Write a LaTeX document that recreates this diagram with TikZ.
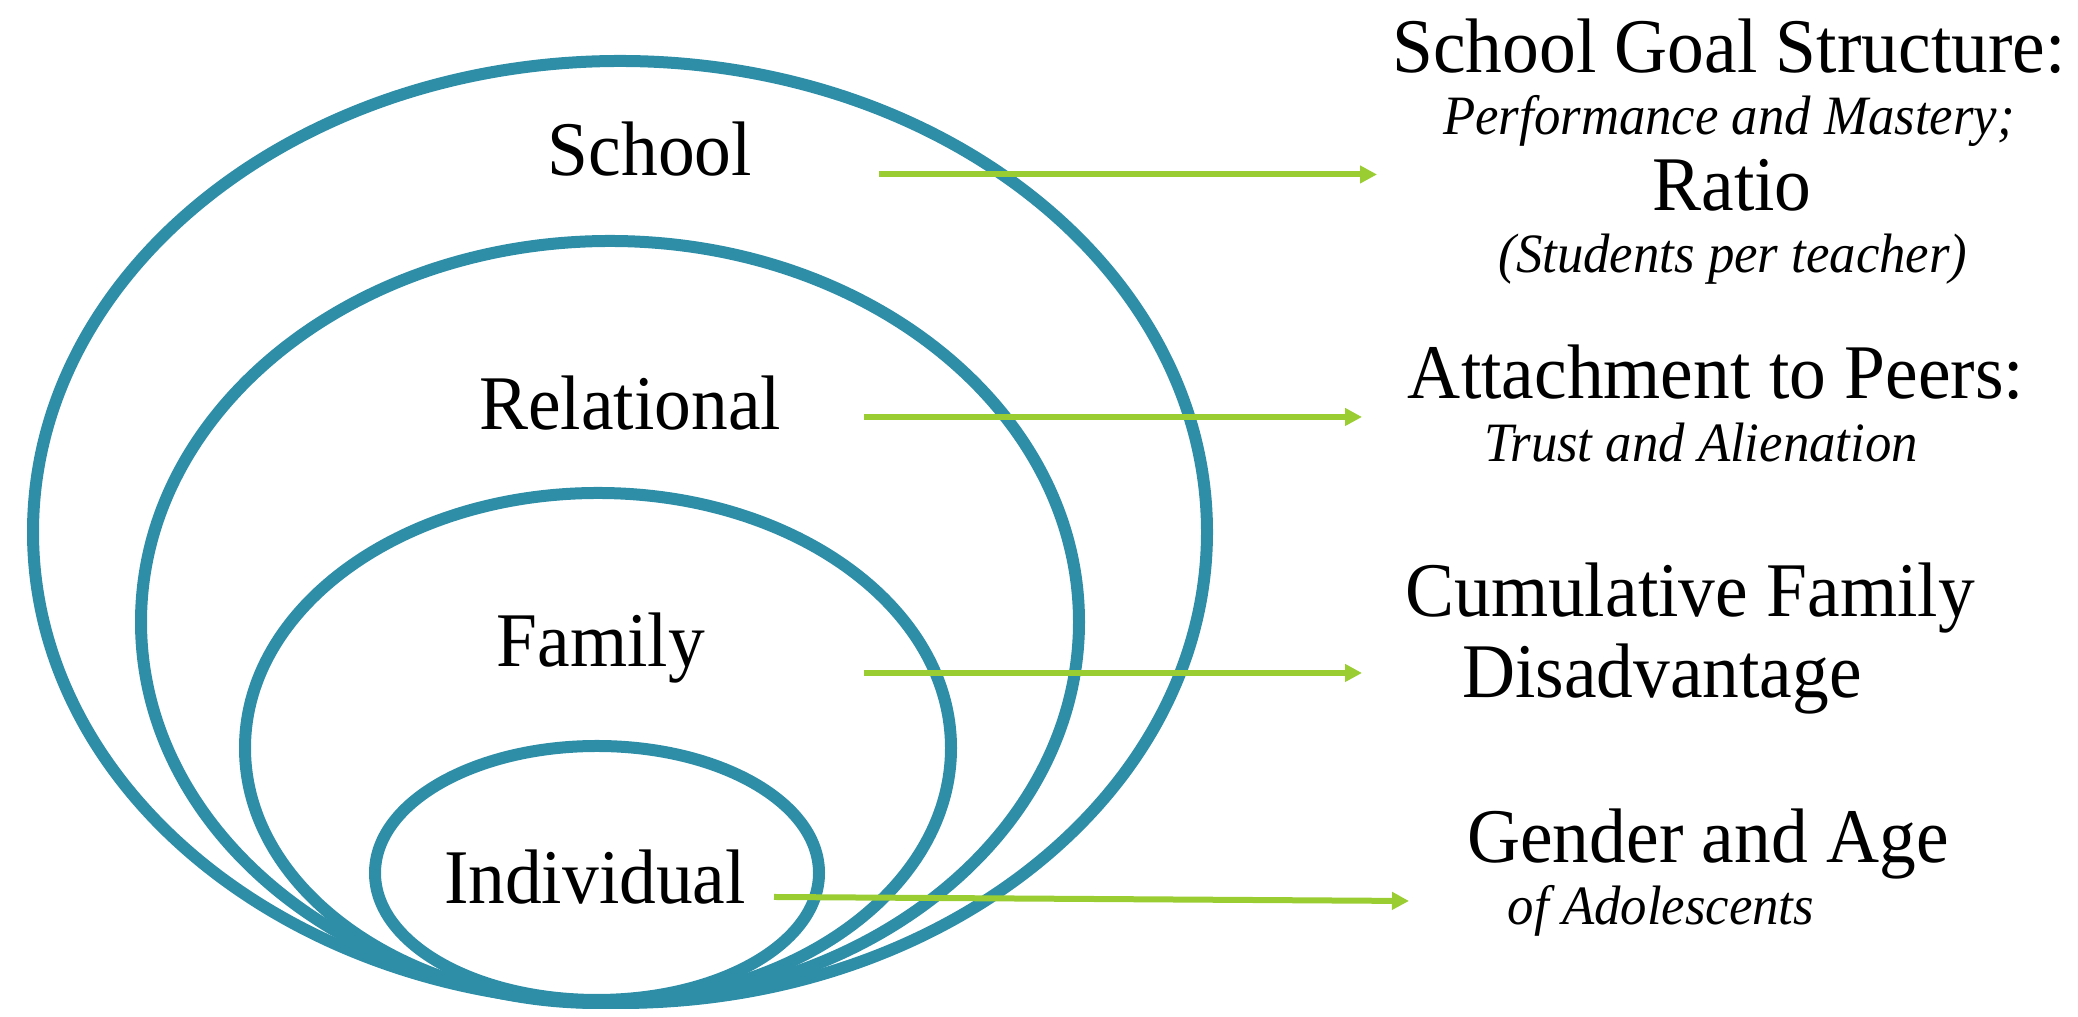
\documentclass[tikz,border=0pt]{standalone}
\usepackage{fontspec}
\setmainfont{Liberation Serif}[FakeStretch=0.95]
\usepackage{tikz}
\usepackage{xcolor}
\usetikzlibrary{arrows.meta}

\definecolor{ringteal}{RGB}{46,142,168}
\definecolor{linkgreen}{RGB}{154,205,50}

\tikzset{
	ring/.style={draw=ringteal, line width=0.12cm},
	link/.style={draw=linkgreen, line width=0.06cm, -{Triangle[length=0.17cm,width=0.17cm]}},
	level/.style={anchor=base, inner sep=0pt, font=\fontsize{22}{26}\selectfont},
	factor/.style={anchor=base, inner sep=0pt, font=\fontsize{22}{26}\selectfont},
	detail/.style={anchor=base, inner sep=0pt, font=\fontsize{15.8}{19}\selectfont\itshape}
}

\begin{document}
\begin{tikzpicture}
		\useasboundingbox (0,0) rectangle (20.78,10.17);
		% nested levels, all touching at the bottom
		\draw[ring] (6.20,4.85) ellipse [x radius=5.87cm, y radius=4.71cm];
		\draw[ring] (6.10,3.95) ellipse [x radius=4.69cm, y radius=3.81cm];
		\draw[ring] (5.98,2.69) ellipse [x radius=3.53cm, y radius=2.55cm];
		\draw[ring] (5.97,1.44) ellipse [x radius=2.22cm, y radius=1.27cm];
		\node[level] (school) at (6.50,8.41) {School};
		\node[level] (relational) at (6.30,5.87) {Relational};
		\node[level] (family) at (6.01,3.50) {Family};
		\node[level] (individual) at (5.95,1.13) {Individual};
		% measures for each level
		\node[factor] (goal) at (17.29,9.44) {School Goal Structure:};
		\node[detail] (goalsub) at (17.29,8.82) {Performance and Mastery;};
		\node[factor] (ratio) at (17.32,8.06) {Ratio};
		\node[detail] (ratiosub) at (17.33,7.44) {(Students per teacher)};
		\node[factor] (peers) at (17.16,6.18) {Attachment to Peers:};
		\node[detail] (peerssub) at (17.01,5.55) {Trust and Alienation};
		\node[factor] (cumul) at (16.90,4.00) {Cumulative Family};
		\node[factor] (disadv) at (16.62,3.19) {Disadvantage};
		\node[factor] (gender) at (17.08,1.54) {Gender and Age};
		\node[detail] (gendersub) at (16.61,0.92) {of Adolescents};
		% arrows
		\coordinate (schoolfrom) at (8.79,8.425);
		\coordinate (schoolto) at (13.77,8.425);
		\coordinate (relfrom) at (8.64,6.00);
		\coordinate (relto) at (13.62,6.00);
		\coordinate (famfrom) at (8.64,3.44);
		\coordinate (famto) at (13.62,3.44);
		\coordinate (indfrom) at (7.74,1.20);
		\coordinate (indto) at (14.09,1.16);
		\draw[link] (schoolfrom) -- (schoolto);
		\draw[link] (relfrom) -- (relto);
		\draw[link] (famfrom) -- (famto);
		\draw[link] (indfrom) -- (indto);
	\end{tikzpicture}
\end{document}
